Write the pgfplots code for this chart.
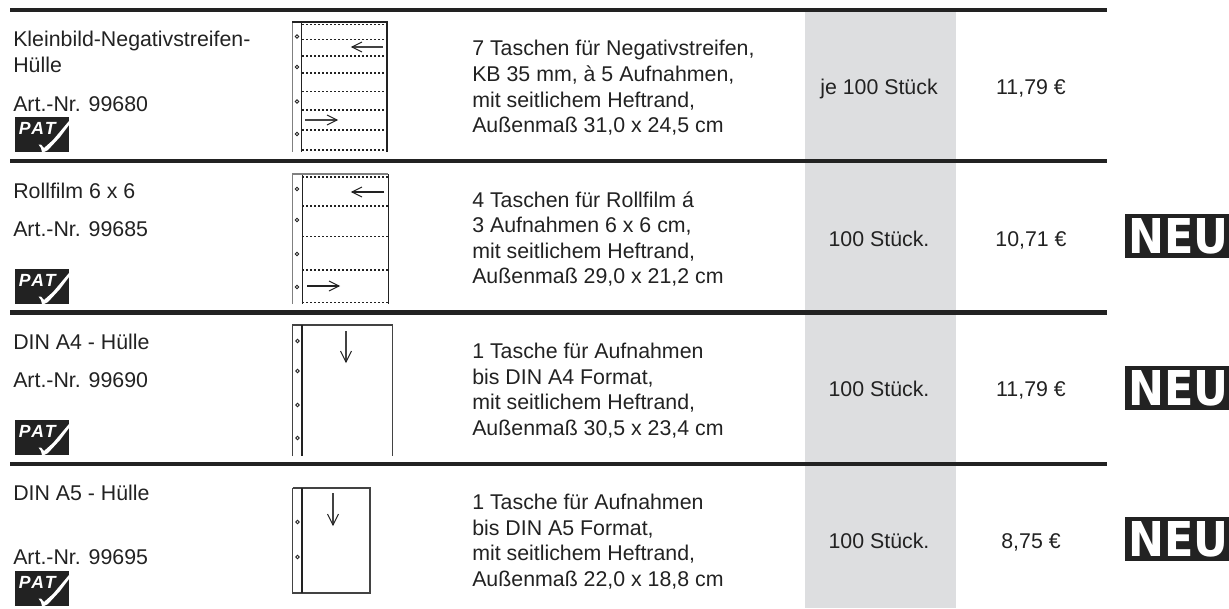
\documentclass[border=0pt]{standalone}
\usepackage{fontspec}
\setmainfont{Liberation Sans}
\newfontfamily\neufont{DejaVu Sans}
\usepackage{pgfplots}
\pgfplotsset{compat=1.18}
\definecolor{ink}{HTML}{222222}
\definecolor{band}{HTML}{DDDEE0}
\newcommand{\txt}[3]{\node[anchor=base west,inner sep=0pt,text=ink,font=\fontsize{16}{19}\selectfont] at (axis cs:#1,#2) {#3};}
\newcommand{\ctr}[3]{\node[anchor=base,inner sep=0pt,text=ink,font=\fontsize{16}{19}\selectfont] at (axis cs:#1,#2) {#3};}
\newcommand{\pat}[1]{%
  \addplot[draw=none,fill=ink,y filter/.expression={y+#1}] coordinates {(15,0)(69,0)(69,35)(15,35)} --cycle;
  \addplot[draw=none,fill=white,y filter/.expression={y+#1}] coordinates {(38.5,27.5)(41,27.5)(44,31)(53,23)(69,4)(69,8)(60,20)(48,33)(44,35)(42,35)(41,31)} --cycle;
  \node[anchor=base west,inner sep=0pt,text=white,font=\fontsize{13.2}{15}\bfseries\itshape\selectfont\addfontfeature{LetterSpace=12}] at (axis cs:18.5,#1+17) {PAT};
}
\newcommand{\neu}[1]{%
  \addplot[draw=none,fill=ink,y filter/.expression={y+#1}] coordinates {(1125,0)(1229,0)(1229,44)(1125,44)} --cycle;
  \node[anchor=base west,inner sep=0pt,text=white,xscale=0.895,font=\fontsize{36}{40}\neufont\bfseries\selectfont] at (axis cs:1128,#1+39) {NEU};
}
\begin{document}
\begin{tikzpicture}
\begin{axis}[x=0.75pt,y=0.75pt,y dir=reverse,xmin=0,xmax=1229,ymin=0,ymax=608,hide axis,clip=false,
  every axis plot/.append style={line cap=butt}]
% page
\addplot[draw=none,fill=white] coordinates {(0,0)(1229,0)(1229,608)(0,608)} --cycle;
% grey column
\addplot[draw=none,fill=band] coordinates {(805,12)(955.5,12)(955.5,608)(805,608)} --cycle;
% rules
\addplot[ink,line width=3.2pt] coordinates {(10,10)(1107,10)};
\addplot[ink,line width=3.2pt] coordinates {(10,161)(1107,161)};
\addplot[ink,line width=3.2pt] coordinates {(10,312.5)(1107,312.5)};
\addplot[ink,line width=3.2pt] coordinates {(10,464)(1107,464)};

% sleeve 1
\addplot[gray,line width=1.2pt] coordinates {(292.5,22)(292.5,152)};
\addplot[ink,line width=0.95pt] coordinates {(301.5,22)(301.5,152)};
\addplot[ink,line width=0.8pt] coordinates {(292,22)(387,22)(387,152)};
\addplot[ink,line width=0.85pt,dash pattern=on 1.6pt off 1.4pt] coordinates {(302,24.5)(387,24.5)};
\addplot[ink,line width=0.85pt,dash pattern=on 1.6pt off 1.4pt] coordinates {(302,39.5)(387,39.5)};
\addplot[ink,line width=0.85pt,dash pattern=on 1.6pt off 1.4pt] coordinates {(302,56)(387,56)};
\addplot[ink,line width=0.85pt,dash pattern=on 1.6pt off 1.4pt] coordinates {(302,73)(387,73)};
\addplot[ink,line width=0.85pt,dash pattern=on 1.6pt off 1.4pt] coordinates {(302,91.5)(387,91.5)};
\addplot[ink,line width=0.85pt,dash pattern=on 1.6pt off 1.4pt] coordinates {(302,110)(387,110)};
\addplot[ink,line width=0.85pt,dash pattern=on 1.6pt off 1.4pt] coordinates {(302,130)(387,130)};
\addplot[ink,line width=0.85pt,dash pattern=on 1.6pt off 1.4pt] coordinates {(302,150)(387,150)};
\addplot[only marks,mark=o,mark size=1.3pt,mark options={ink,line width=0.75pt}] coordinates {(297,36.5)(297,67)(297,101.5)(297,134)};
\addplot[ink!85,line width=1.0pt] coordinates {(383,47)(352,47)};
\addplot[ink,line width=0.75pt] coordinates {(362,42)(352,47)(362,52)};
\addplot[ink!85,line width=1.0pt] coordinates {(305,120)(337,120)};
\addplot[ink,line width=0.75pt] coordinates {(327,115)(337,120)(327,125)};

% sleeve 2
\addplot[gray,line width=1.0pt] coordinates {(292.5,174)(292.5,304)};
\addplot[ink,line width=0.75pt] coordinates {(302,174)(302,304)};
\addplot[gray,line width=0.9pt] coordinates {(292,174)(388,174)};
\addplot[ink,line width=0.7pt] coordinates {(388,174)(388,304)};
\addplot[ink,line width=0.8pt,dash pattern=on 1.6pt off 1.4pt] coordinates {(302,177)(388,177)};
\addplot[ink,line width=0.8pt,dash pattern=on 1.6pt off 1.4pt] coordinates {(302,206)(388,206)};
\addplot[ink,line width=0.8pt,dash pattern=on 1.6pt off 1.4pt] coordinates {(302,236.5)(388,236.5)};
\addplot[ink,line width=0.8pt,dash pattern=on 1.6pt off 1.4pt] coordinates {(302,270)(388,270)};
\addplot[ink,line width=0.8pt,dash pattern=on 1.6pt off 1.4pt] coordinates {(302,302.5)(388,302.5)};
\addplot[only marks,mark=o,mark size=1.3pt,mark options={ink,line width=0.75pt}] coordinates {(297,189)(297,220)(297,254)(297,287)};
\addplot[ink,line width=0.8pt] coordinates {(384,192)(352,192)};
\addplot[ink,line width=0.75pt] coordinates {(362,187)(352,192)(362,197)};
\addplot[ink,line width=0.8pt] coordinates {(307,286)(339,286)};
\addplot[ink,line width=0.75pt] coordinates {(329,281)(339,286)(329,291)};

% sleeve 3
\addplot[ink!85,line width=0.85pt] coordinates {(292.5,456)(292.5,325)(392.5,325)(392.5,456)};
\addplot[ink,line width=0.85pt] coordinates {(302,325)(302,456)};
\addplot[only marks,mark=o,mark size=1.3pt,mark options={ink,line width=0.75pt}] coordinates {(297.5,341)(297.5,371)(297.5,405)(297.5,438)};
\addplot[ink!85,line width=0.9pt] coordinates {(346,331)(346,362)};
\addplot[ink,line width=0.75pt] coordinates {(340.5,351)(346,362)(351.5,351)};

% sleeve 4
\addplot[ink!85,line width=0.9pt] coordinates {(292.5,488)(370,488)(370,593)(292.5,593)(292.5,488)};
\addplot[ink,line width=0.8pt] coordinates {(302,488)(302,593)};
\addplot[only marks,mark=o,mark size=1.3pt,mark options={ink,line width=0.75pt}] coordinates {(297.5,522)(297.5,557)};
\addplot[ink!85,line width=0.9pt] coordinates {(333,493)(333,525)};
\addplot[ink,line width=0.75pt] coordinates {(327.5,514)(333,525)(338.5,514)};

% left column
\txt{13}{46}{Kleinbild-Negativstreifen-}
\txt{13}{72}{Hülle}
\txt{13}{111}{Art.-Nr. 99680}
\txt{13}{198}{Rollfilm 6 x 6}
\txt{13}{236}{Art.-Nr. 99685}
\txt{13}{349}{DIN A4 - Hülle}
\txt{13}{387}{Art.-Nr. 99690}
\txt{13}{500}{DIN A5 - Hülle}
\txt{13}{564}{Art.-Nr. 99695}
\pat{117}
\pat{269}
\pat{420}
\pat{571}

% description column
\txt{472}{55}{7 Taschen für Negativstreifen,}
\txt{472}{81}{KB 35 mm, à 5 Aufnahmen,}
\txt{472}{107}{mit seitlichem Heftrand,}
\txt{472}{132}{Außenmaß 31,0 x 24,5 cm}
\txt{472}{207}{4 Taschen für Rollfilm á}
\txt{472}{232}{3 Aufnahmen 6 x 6 cm,}
\txt{472}{258}{mit seitlichem Heftrand,}
\txt{472}{283}{Außenmaß 29,0 x 21,2 cm}
\txt{472}{358}{1 Tasche für Aufnahmen}
\txt{472}{384}{bis DIN A4 Format,}
\txt{472}{409}{mit seitlichem Heftrand,}
\txt{472}{435}{Außenmaß 30,5 x 23,4 cm}
\txt{472}{509}{1 Tasche für Aufnahmen}
\txt{472}{535}{bis DIN A5 Format,}
\txt{472}{560}{mit seitlichem Heftrand,}
\txt{472}{586}{Außenmaß 22,0 x 18,8 cm}

% quantity and price
\ctr{879}{94}{je 100 Stück}
\ctr{879}{246}{100 Stück.}
\ctr{879}{396}{100 Stück.}
\ctr{879}{548}{100 Stück.}
\ctr{1031}{94}{11,79 €}
\ctr{1031}{246}{10,71 €}
\ctr{1031}{396}{11,79 €}
\ctr{1031}{548}{8,75 €}

\neu{214}
\neu{366}
\neu{517}
\end{axis}
\end{tikzpicture}
\end{document}
